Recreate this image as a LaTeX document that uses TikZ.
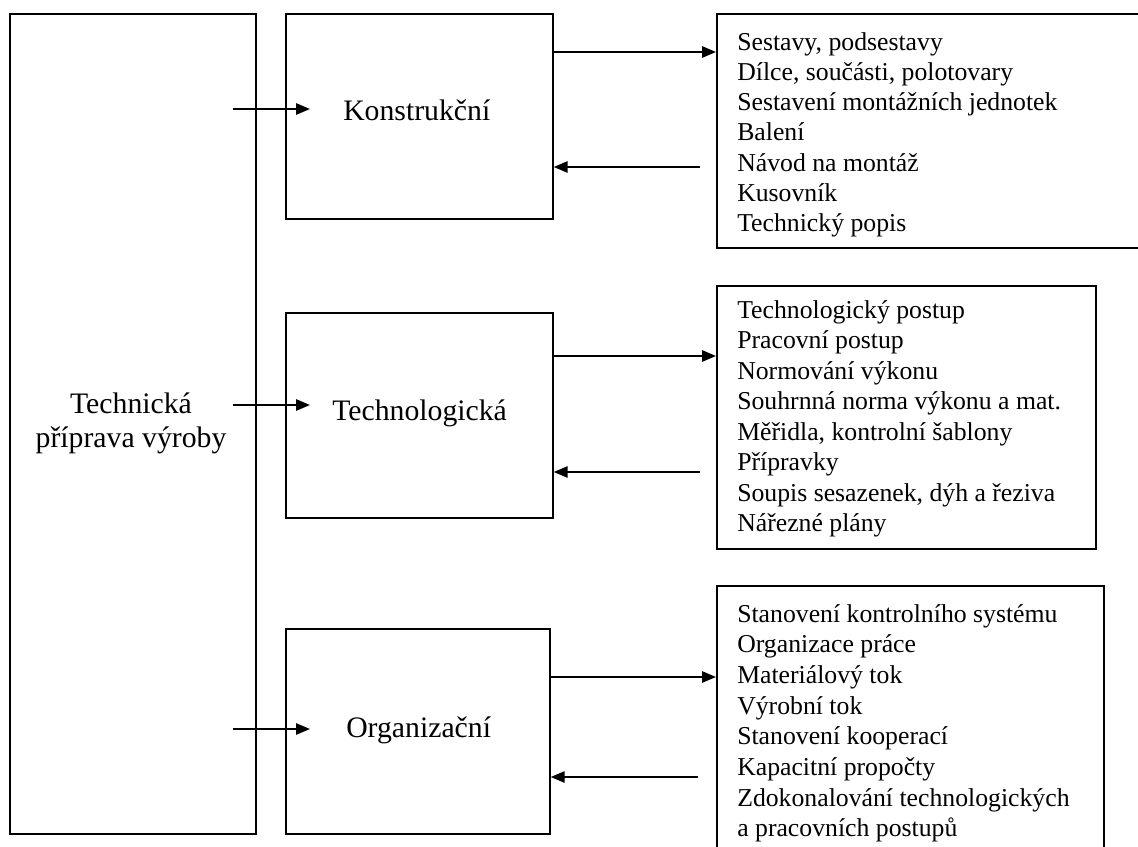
\documentclass[tikz,border=0pt]{standalone}
\usepackage{fontspec}
\setmainfont{Liberation Serif}
\usetikzlibrary{arrows.meta}
\begin{document}
\begin{tikzpicture}[x=0.75pt, y=-0.75pt,
  box/.style={draw, line width=1.3pt, inner sep=0pt, anchor=north west},
  big/.style={font=\fontsize{22.3pt}{25.5pt}\selectfont, inner sep=0pt, anchor=base},
  bigw/.style={big, anchor=base west},
  item/.style={font=\fontsize{19.3pt}{22.9pt}\selectfont, anchor=base west, inner sep=0pt},
  arr/.style={line width=1.4pt, -{Triangle[length=10.5pt,width=8.5pt]}}]
\useasboundingbox (0,0) rectangle (1138,846);
\clip (0,0) rectangle (1138,846);

% left box
\node[box, minimum width=184.5pt, minimum height=615pt] (tpv) at (9,13) {};
\node[big] (tpv1) at (131,413) {Technická};
\node[big] (tpv2) at (131,447) {příprava výroby};

% middle boxes
\node[box, minimum width=200.25pt, minimum height=153.75pt] (kb) at (285,13) {};
\node[box, minimum width=200.25pt, minimum height=153.75pt] (tb) at (285,312) {};
\node[box, minimum width=198pt, minimum height=153.75pt] (ob) at (285,628) {};
\node[bigw] (kt) at (343,120) {Konstrukční};
\node[bigw] (tt) at (332,420) {Technologická};
\node[bigw] (ot) at (346,737) {Organizační};

% right boxes
\node[box, minimum width=330pt, minimum height=175.5pt] (b1) at (716,13) {};
\node[box, minimum width=284.25pt, minimum height=197.25pt] (b2) at (716,285) {};
\node[box, minimum width=290.25pt, minimum height=210pt] (b3) at (716,585) {};

\foreach \t [count=\i] in {{Sestavy, podsestavy},{Dílce, součásti, polotovary},{Sestavení montážních jednotek},{Balení},{Návod na montáž},{Kusovník},{Technický popis}}
  \node[item] (ka\i) at (737,{50+30.3*(\i-1)}) {\t};
\foreach \t [count=\i] in {{Technologický postup},{Pracovní postup},{Normování výkonu},{Souhrnná norma výkonu a mat.},{Měřidla, kontrolní šablony},{Přípravky},{Soupis sesazenek, dýh a řeziva},{Nářezné plány}}
  \node[item] (ta\i) at (737,{318+30.5*(\i-1)}) {\t};
\foreach \t [count=\i] in {{Stanovení kontrolního systému},{Organizace práce},{Materiálový tok},{Výrobní tok},{Stanovení kooperací},{Kapacitní propočty},{Zdokonalování technologických},{a pracovních postupů}}
  \node[item] (oa\i) at (737,{622+30.7*(\i-1)}) {\t};

% arrows from the left box
\coordinate (s1) at (233,109); \coordinate (e1) at (310,109);
\coordinate (s2) at (233,405); \coordinate (e2) at (310,405);
\coordinate (s3) at (233,729); \coordinate (e3) at (310,729);
\draw[arr] (s1) -- (e1);
\draw[arr] (s2) -- (e2);
\draw[arr] (s3) -- (e3);

% arrows to and from the lists
\coordinate (o1) at (0,52);
\coordinate (o2) at (0,356);
\coordinate (o3) at (0,677);
\draw[arr] (kb.east |- o1) -- (b1.west |- o1);
\draw[arr] (tb.east |- o2) -- (b2.west |- o2);
\draw[arr] (ob.east |- o3) -- (b3.west |- o3);
\coordinate (r1) at (700,167);
\coordinate (r2) at (700,472);
\coordinate (r3) at (698,777);
\draw[arr] (r1) -- (kb.east |- r1);
\draw[arr] (r2) -- (tb.east |- r2);
\draw[arr] (r3) -- (ob.east |- r3);
\end{tikzpicture}
\end{document}
